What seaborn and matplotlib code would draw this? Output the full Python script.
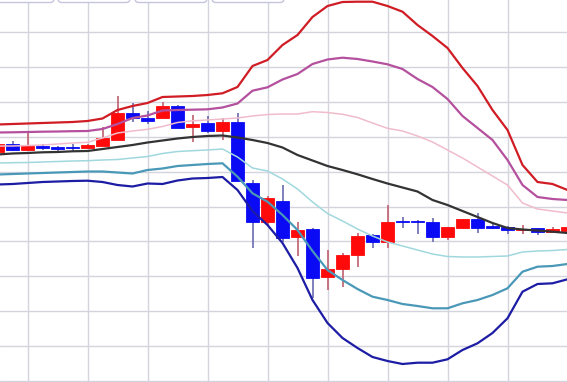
import numpy as np
import pandas as pd
import seaborn as sns
import matplotlib
matplotlib.use("Agg")
import matplotlib.pyplot as plt
from matplotlib.patches import FancyBboxPatch
from matplotlib.transforms import IdentityTransform

# ---------------- data (price units) ----------------
bar_index = list(range(39))

opens = [229, 237, 231, 235, 233.2, 234, 232.7, 235.3, 241, 268.3,
         262.7, 263, 275.3, 254.3, 257.7, 249.7, 259.3, 197.7, 158.7, 180,
         144.3, 151.7, 104.3, 111.7, 126, 146, 139.3, 159.3, 159.3, 159.3,
         143.7, 153.3, 162, 155, 154.3, 151, 152.7, 149.3, 150.3]
highs = [238, 240, 248, 237, 235.3, 237, 237, 253.7, 285, 278.3,
         270.3, 279.3, 276, 266, 265, 262.7, 267.7, 201, 185, 196,
         159.3, 153, 131, 128.3, 147.7, 146.7, 176, 164.3, 161, 162.7,
         154, 162, 167.7, 157.7, 155, 156, 153, 154.3, 155]
lows = [228, 230, 230, 231.5, 229.3, 229, 232, 235, 241, 259.3,
        256.7, 263, 253, 239.3, 247.7, 241, 200, 132.7, 155, 139.3,
        125, 82.7, 91, 94.3, 113.7, 132.7, 133.3, 153.3, 147, 139.3,
        141, 151.7, 147.7, 152, 146.7, 147, 146, 149, 150]
closes = [237, 231, 235, 233, 232.5, 233.2, 236, 243.3, 267.7, 262.7,
          260, 275.3, 253.3, 257.3, 250.3, 259.3, 200, 159.3, 182.7, 143.3,
          151, 103.3, 112, 126, 145.3, 139.3, 159.3, 158.7, 158.7, 143.7,
          153.7, 162, 153.3, 152.7, 151, 152.5, 149.3, 151.7, 154.3]

band_plus3 = [256.5, 257, 257.5, 258, 258.5, 259, 260, 262.5, 271, 275,
              278, 284, 284.5, 285, 286, 287.7, 294, 315, 321, 336,
              346, 364, 375, 379, 379.3, 379.3, 375, 369.3, 356, 345,
              333, 313, 295, 271, 251, 216, 199, 197, 191]
band_plus2 = [248.5, 248.7, 249, 249.3, 249.5, 249.8, 250, 252, 257, 263,
              265.5, 270.5, 271, 271.3, 271.7, 273.5, 277.5, 290.3, 293.7, 301.5,
              307, 317, 321.5, 323.3, 322, 319.5, 316.7, 312, 302, 294,
              282, 265, 253, 241, 221, 196, 184, 182, 181]
band_plus1 = [235, 235, 235.5, 236, 237, 238, 238.7, 243, 248, 250,
              251.7, 254.5, 258.5, 260.2, 261, 262, 263, 265, 266.5, 267,
              267, 269.3, 268.5, 266.7, 263.5, 258, 252.7, 250, 245, 239,
              231, 223, 214, 205, 196, 178, 172, 170, 168]
band_mid = [226.5, 227.5, 228, 228.7, 229, 229.7, 230, 232, 234, 236,
            238.5, 240.5, 242.5, 244, 245, 245.5, 243.5, 241, 238, 233.5,
            226, 220.5, 215, 211, 206.7, 202, 197.5, 193.5, 189.5, 181,
            176, 170, 164, 158, 153, 151.5, 150.5, 149.3, 148]
band_minus1 = [218, 218.3, 218.5, 219, 219.5, 220, 220.3, 221, 221.5, 223,
               224.5, 227.5, 229.5, 230.3, 231, 232, 224, 213, 210, 202,
               192, 179, 167.5, 160, 152, 145, 139, 135, 131, 127,
               124.5, 124, 124, 124.5, 125, 129, 130, 130.5, 131.5]
band_minus2 = [206.5, 207, 207.5, 208, 208.5, 209, 209.5, 209.5, 208.5, 207.5,
               211, 212.5, 215, 216, 217, 217.7, 204.3, 187.7, 179.3, 166,
               151, 130, 111, 101, 92, 84.3, 81, 77, 75, 72.7,
               72.7, 77.7, 81, 86, 92.7, 109.3, 114.3, 115, 117]
band_minus3 = [196.5, 197, 198, 199, 199.5, 200, 200.3, 199, 196, 194.5,
               197.5, 197, 200.5, 202.5, 203, 204, 191, 170, 156, 138,
               113, 81, 58, 43, 33, 24, 20, 17, 18.3, 18.3,
               21.7, 31, 37.7, 48, 62.7, 89.3, 97, 97.7, 101.7]

band_names = ["+3σ", "+2σ", "+1σ", "MA", "-1σ", "-2σ", "-3σ"]

# ---------------- styling ----------------
sns.set_theme(style="white")
plt.rcParams["font.family"] = ["DejaVu Sans"]

W, H = 567, 382
fig = plt.figure(figsize=(W / 100, H / 100), dpi=100)
ax = fig.add_axes([0, 0, 1, 1])
ax.set_facecolor("white")

# grid
ax.set_xticks(np.arange(2, 38, 4))
ax.set_yticks(np.arange(0, 381, 34.9))
ax.grid(True, color="#d4d4dc", linewidth=1.0)
ax.tick_params(length=0, labelbottom=False, labelleft=False)
for s in ax.spines.values():
    s.set_visible(False)

# candles
df = pd.DataFrame({"i": bar_index, "o": opens, "h": highs, "l": lows, "c": closes})
df["up"] = df["c"] >= df["o"]
up_col, dn_col = "#ff0a0a", "#0a0af5"
wick_up, wick_dn = "#c06070", "#6a6ab0"
for up, body, wick in [(True, up_col, wick_up), (False, dn_col, wick_dn)]:
    d = df[df["up"] == up]
    ax.vlines(d["i"], d["l"], d["h"], color=wick, linewidth=1.2, zorder=2)
    bottom = np.minimum(d["o"], d["c"])
    height = np.maximum(np.abs(d["c"] - d["o"]), 1.2)
    ax.bar(d["i"], height, bottom=bottom, width=0.88, color=body,
           edgecolor=body, linewidth=0.6, zorder=3)

# bands
bands = [band_plus3, band_plus2, band_plus1, band_mid, band_minus1, band_minus2, band_minus3]
colors = ["#d01c24", "#b4509e", "#f0bccb", "#333333", "#a0d8de", "#4a98b8", "#1c1ca4"]
widths = [1.6, 1.6, 1.1, 1.6, 1.1, 1.6, 1.6]
long = pd.DataFrame({
    "i": np.tile(bar_index, len(bands)),
    "value": np.concatenate(bands),
    "band": np.repeat(band_names, len(bar_index)),
})
for name, col, lw in zip(band_names, colors, widths):
    sns.lineplot(data=long[long["band"] == name], x="i", y="value", color=col,
                 linewidth=lw, ax=ax, zorder=4, legend=False)

ax.set_xlim(2.5 / 15, 569.5 / 15)
ax.set_ylim(-1, 381)
ax.set_xlabel("")
ax.set_ylabel("")

# tab-like buttons cut off at the top edge
for x0, x1 in [(-4, 54), (58, 130), (135, 207), (212, 284)]:
    p = FancyBboxPatch((x0, H - 2.5), x1 - x0, 20,
                       boxstyle="round,pad=0,rounding_size=4",
                       transform=IdentityTransform(), facecolor="white",
                       edgecolor="#c4c4de", linewidth=1.0, zorder=10)
    fig.patches.append(p)

fig.savefig("out.png", dpi=100)
